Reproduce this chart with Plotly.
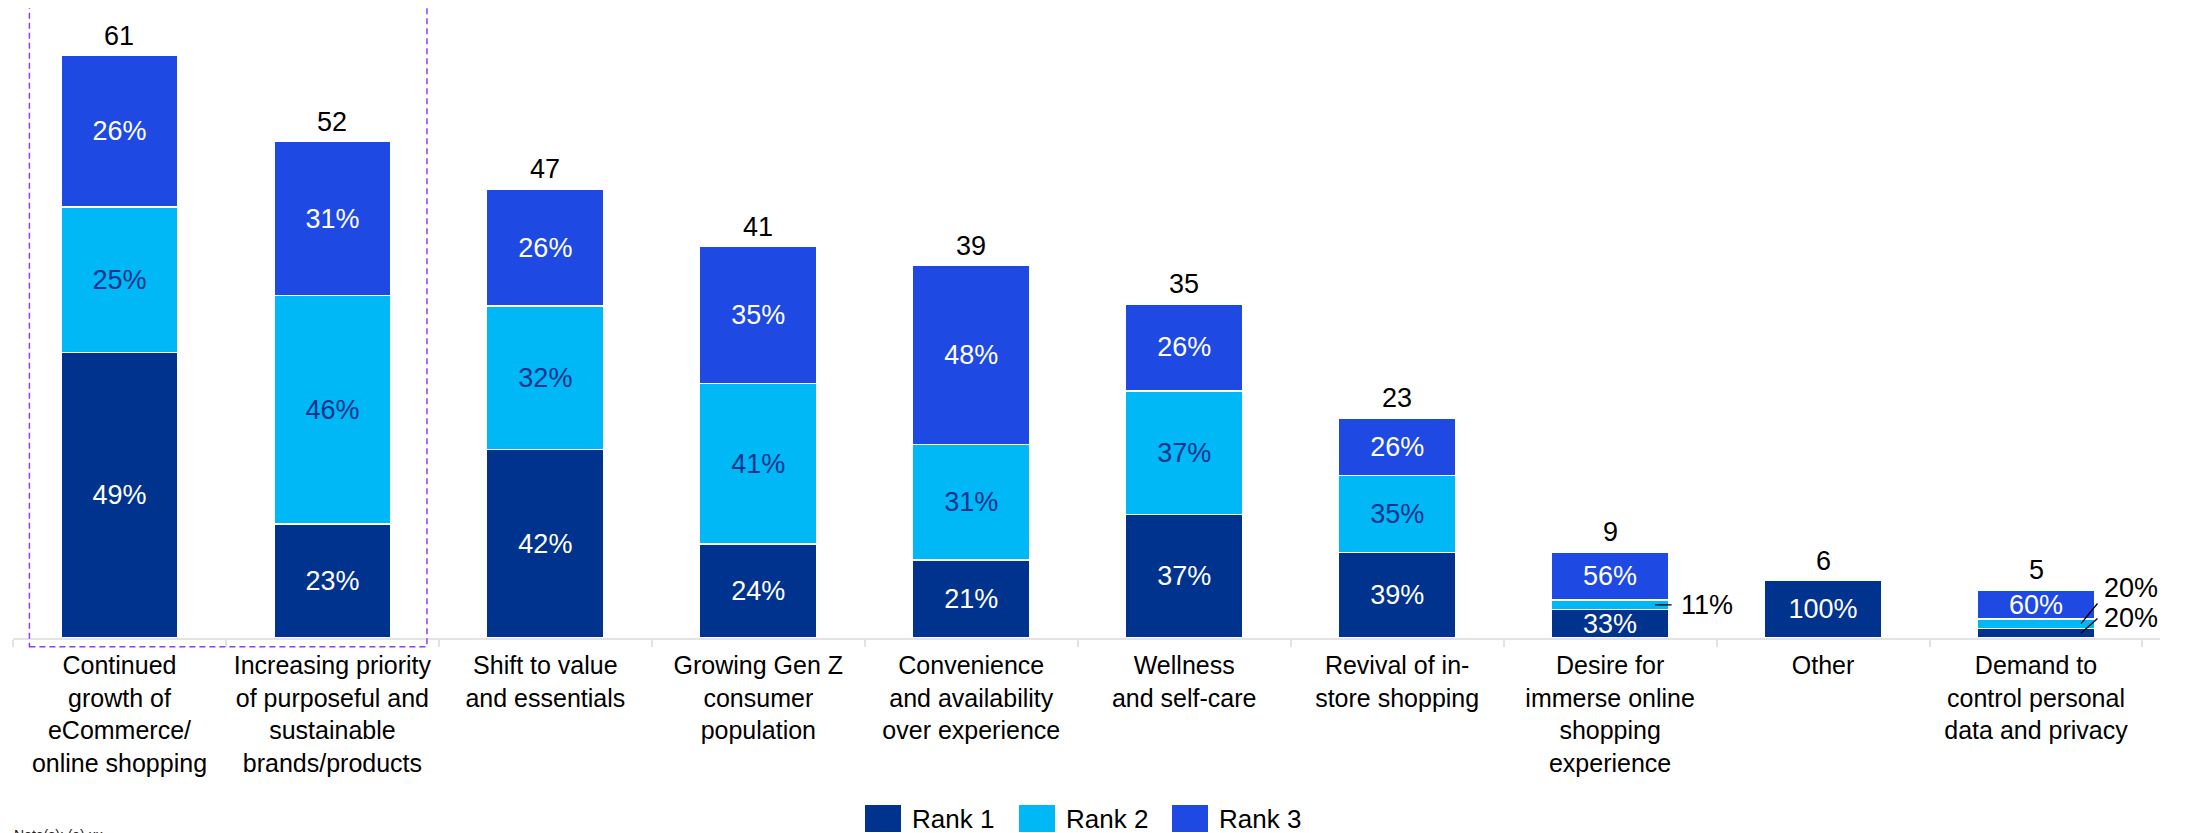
import plotly.graph_objects as go

# categories and survey data
categories = [
    "Continued<br>growth of<br>eCommerce/<br>online shopping",
    "Increasing priority<br>of purposeful and<br>sustainable<br>brands/products",
    "Shift to value<br>and essentials",
    "Growing Gen Z<br>consumer<br>population",
    "Convenience<br>and availability<br>over experience",
    "Wellness<br>and self-care",
    "Revival of in-<br>store shopping",
    "Desire for<br>immerse online<br>shopping<br>experience",
    "Other",
    "Demand to<br>control personal<br>data and privacy",
]
totals = [61, 52, 47, 41, 39, 35, 23, 9, 6, 5]
rank1_pct = [49, 23, 42, 24, 21, 37, 39, 33, 100, 20]
rank2_pct = [25, 46, 32, 41, 31, 37, 35, 11, 0, 20]
rank3_pct = [26, 31, 26, 35, 48, 26, 26, 56, 0, 60]

series_names = ["Rank 1", "Rank 2", "Rank 3"]
series_pct = [rank1_pct, rank2_pct, rank3_pct]
colors = ["#00338D", "#00B8F5", "#1E49E2"]
text_colors = ["#FFFFFF", "#00338D", "#FFFFFF"]

FONT = "Arial, Liberation Sans, sans-serif"
# the page body adds an 8px margin, so the figure is made 8px smaller
OFF = 8
W, H = 2195 - OFF, 833 - OFF
ML, MR, MT, MB = 5, 35, 0, 195
PLOT_W = W - ML - MR
PLOT_H = H - MT - MB
PX_PER_UNIT = 9.546


# helpers: page pixel -> paper coordinates
def px_x(p):
    return (p - OFF - ML) / PLOT_W


def px_y(p):
    return (H - MB - (p - OFF)) / PLOT_H


fig = go.Figure()

for name, pcts, col, tcol in zip(series_names, series_pct, colors, text_colors):
    heights = [t * p / 100 for t, p in zip(totals, pcts)]
    # small segments get an outside label with a leader line instead
    labels = [f"{p}%" if h >= 2 else "" for p, h in zip(pcts, heights)]
    fig.add_trace(go.Bar(
        x=categories, y=heights, name=name,
        marker=dict(color=col, line=dict(color="white", width=1.5)),
        text=labels, textposition="inside", insidetextanchor="middle",
        textangle=0, constraintext="none",
        textfont=dict(family=FONT, size=27, color=tcol),
        showlegend=False,
    ))

annotations = []
shapes = []

# totals above bars
for cat, tot in zip(categories, totals):
    annotations.append(dict(
        x=cat, y=tot, xref="x", yref="y", text=str(tot), showarrow=False,
        yanchor="bottom", yshift=3,
        font=dict(family=FONT, size=27, color="black"),
    ))

# leader-line labels for the tiny segments: (category idx, rank idx, line dx, dy, text dx, text dy)
small_labels = [
    (7, 1, 18, 0, 69, 0),
    (9, 1, 18, -22, 66, 36),
    (9, 0, 18, -16, 66, 15),
]
for ci, ri, ldx, ldy, tdx, tdy in small_labels:
    below = sum(totals[ci] * series_pct[k][ci] / 100 for k in range(ri))
    mid = below + totals[ci] * series_pct[ri][ci] / 200
    annotations.append(dict(
        x=categories[ci], y=mid, xref="x", yref="y", text=" ",
        font=dict(size=1), showarrow=True, arrowhead=0, arrowwidth=1.3,
        arrowcolor="black", ax=ldx, ay=ldy, xshift=45, standoff=0,
    ))
    annotations.append(dict(
        x=categories[ci], y=mid, xref="x", yref="y",
        text=f"{series_pct[ri][ci]}%", showarrow=False,
        xanchor="left", yanchor="middle", xshift=tdx, yshift=tdy,
        font=dict(family=FONT, size=27, color="black"),
    ))

# highlight box around the first two categories
shapes.append(dict(
    type="rect", xref="x", yref="paper", x0=-0.423, x1=1.444,
    y0=px_y(646.7), y1=px_y(7.3),
    line=dict(color="#8A3FFC", width=1.5, dash="6px,4px"),
    fillcolor="rgba(0,0,0,0)", layer="above",
))

# legend drawn by hand to get the large swatches
leg_x = [865, 1019, 1172]
for name, col, lx in zip(series_names, colors, leg_x):
    shapes.append(dict(
        type="rect", xref="paper", yref="paper",
        x0=px_x(lx), x1=px_x(lx + 36), y0=px_y(832), y1=px_y(805),
        fillcolor=col, line=dict(width=0),
    ))
    annotations.append(dict(
        x=px_x(lx + 45), y=px_y(819), xref="paper", yref="paper",
        text=name, showarrow=False, xanchor="left", yanchor="middle",
        font=dict(family=FONT, size=26, color="black"),
    ))

annotations.append(dict(
    x=px_x(12), y=px_y(825), xref="paper", yref="paper",
    text="Note(s): (a) xx", showarrow=False, xanchor="left", yanchor="top",
    font=dict(family=FONT, size=14, color="#222222"),
))

fig.update_layout(
    width=W, height=H, barmode="stack", bargap=0.449,
    plot_bgcolor="white", paper_bgcolor="white",
    margin=dict(l=ML, r=MR, t=MT, b=MB, autoexpand=False),
    font=dict(family=FONT, size=25, color="black"),
    annotations=annotations, shapes=shapes,
    xaxis=dict(
        showline=True, linecolor="#E3E3E3", linewidth=2,
        ticks="outside", tickson="boundaries", ticklen=7, tickcolor="#E3E3E3",
        tickwidth=1.5, tickfont=dict(family=FONT, size=25, color="black"),
        tickangle=0, automargin=False,
        ticklabelstandoff=4, showgrid=False, fixedrange=True,
    ),
    yaxis=dict(
        range=[0, PLOT_H / PX_PER_UNIT], visible=False, showgrid=False,
        zeroline=False,
    ),
)

fig.write_html("out.html")
